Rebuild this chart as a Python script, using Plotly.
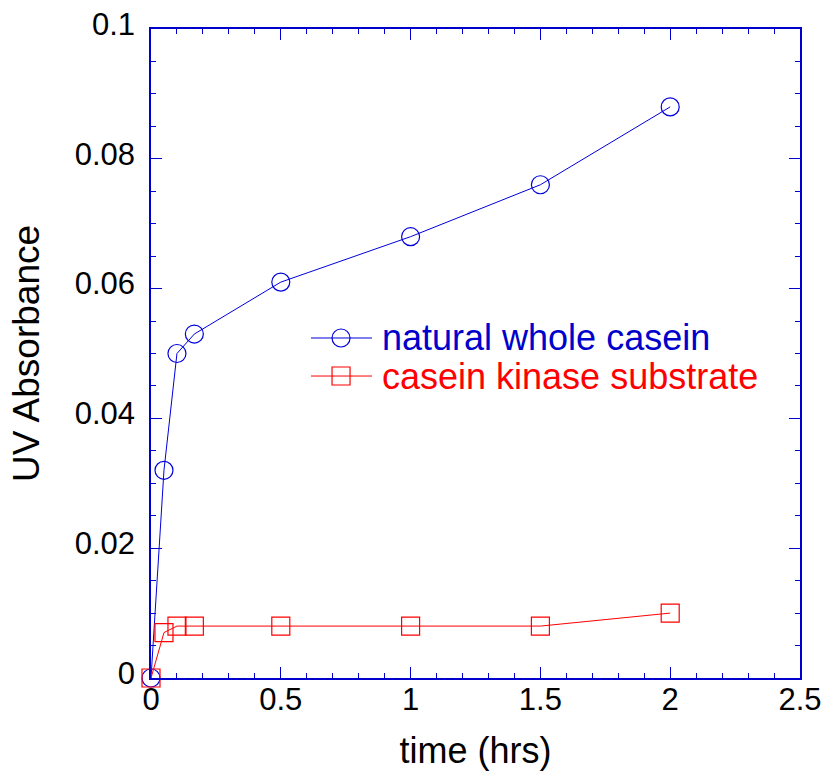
import plotly.graph_objects as go

time_hrs = [0, 0.05, 0.1, 0.167, 0.5, 1.0, 1.5, 2.0]
natural_whole_casein = [0, 0.032, 0.050, 0.053, 0.061, 0.068, 0.076, 0.088]
casein_kinase_substrate = [0, 0.007, 0.008, 0.008, 0.008, 0.008, 0.008, 0.010]
x_ticks = [0, 0.5, 1, 1.5, 2, 2.5]
x_tick_labels = ["0", "0.5", "1", "1.5", "2", "2.5"]
y_ticks = [0, 0.02, 0.04, 0.06, 0.08, 0.1]
y_tick_labels = ["0", "0.02", "0.04", "0.06", "0.08", "0.1"]
series_names = ["natural whole casein", "casein kinase substrate"]

BLUE = "#0000dd"
RED = "#ff0000"
AXIS = "#0000cc"
FONT = "Liberation Sans, Arial, sans-serif"

fig = go.Figure()
fig.add_trace(go.Scatter(
    x=time_hrs, y=natural_whole_casein, mode="lines+markers",
    line=dict(color=BLUE, width=1),
    marker=dict(symbol="circle-open", size=18, color=BLUE, line=dict(width=1.2, color=BLUE)),
    cliponaxis=False, showlegend=False))
fig.add_trace(go.Scatter(
    x=time_hrs, y=casein_kinase_substrate, mode="lines+markers",
    line=dict(color=RED, width=1),
    marker=dict(symbol="square-open", size=18, color=RED, line=dict(width=1.2, color=RED)),
    cliponaxis=False, showlegend=False))

axis_common = dict(
    showline=True, linecolor=AXIS, linewidth=1.5, mirror="allticks",
    ticks="inside", ticklen=11, tickcolor=AXIS, tickwidth=1,
    showgrid=False, zeroline=False, automargin=False,
    tickfont=dict(family=FONT, size=31, color="black"),
)

fig.update_xaxes(
    range=[0, 2.5], tickvals=x_ticks, ticktext=x_tick_labels,
    minor=dict(dtick=0.1, ticks="inside", ticklen=5, tickcolor=AXIS, tickwidth=1, showgrid=False),
    title=dict(text="time (hrs)", font=dict(family=FONT, size=36, color="black"), standoff=28),
    ticklabelstandoff=-7,
    **axis_common)
fig.update_yaxes(
    range=[0, 0.1], tickvals=y_ticks, ticktext=y_tick_labels,
    minor=dict(dtick=0.005, ticks="inside", ticklen=5, tickcolor=AXIS, tickwidth=1, showgrid=False),
    title=dict(text="UV Absorbance", font=dict(family=FONT, size=37, color="black"), standoff=24),
    ticklabelstandoff=8, ticklabelshift=-5,
    **axis_common)

# manual legend
legend_rows = [(0.5239, BLUE, "circle", series_names[0]), (0.4653, RED, "rect", series_names[1])]
for ly, col, shp, name in legend_rows:
    fig.add_shape(type="line", xref="paper", yref="paper", x0=0.2465, x1=0.3405, y0=ly, y1=ly,
                  line=dict(color=col, width=1))
    fig.add_shape(type=shp, xref="paper", yref="paper", xsizemode="pixel", ysizemode="pixel",
                  xanchor=0.2928, yanchor=ly, x0=-9, x1=9, y0=-9, y1=9,
                  line=dict(color=col, width=1.2), fillcolor="rgba(0,0,0,0)")
    fig.add_annotation(x=0.3529, y=ly, xref="paper", yref="paper", text=name, showarrow=False,
                       xanchor="left", yanchor="middle",
                       font=dict(family=FONT, size=36, color=("#0000cc" if col == BLUE else RED)))

fig.update_layout(
    width=824, height=771,
    margin=dict(l=151, r=24, t=29, b=93),
    plot_bgcolor="white", paper_bgcolor="white",
)

fig.write_html("out.html")
